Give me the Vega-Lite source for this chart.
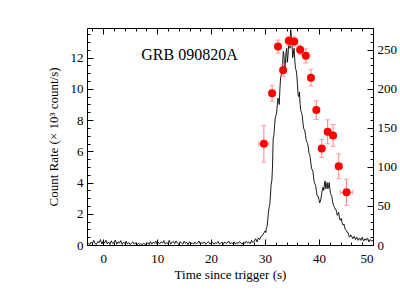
{
  "$schema": "https://vega.github.io/schema/vega-lite/v6.json",
  "autosize": {"type": "none"},
  "width": 286,
  "height": 217,
  "padding": {"left": 87, "top": 28, "right": 27, "bottom": 55},
  "background": "white",
  "config": {
    "view": {"stroke": null},
    "axis": {
      "labelFont": "Liberation Serif", "labelFontSize": 13, "labelColor": "black",
      "titleFont": "Liberation Serif", "titleFontSize": 13, "titleFontWeight": "normal", "titleColor": "black",
      "domainColor": "black", "tickColor": "black", "grid": false, "tickWidth": 1, "domainWidth": 1
    }
  },
  "datasets": {
    "lc": [
      {"t":-3,"c":0.05},{"t":-2.75,"c":0.12},{"t":-2.5,"c":0.02},{"t":-2.25,"c":0.18},{"t":-2,"c":0.08},{"t":-1.75,"c":0.3},{"t":-1.5,"c":0.1},{"t":-1.25,"c":0.04},{"t":-1,"c":0.22},{"t":-0.75,"c":0.15},{"t":-0.5,"c":0.35},{"t":-0.25,"c":0.06},{"t":0,"c":0.25},{"t":0.25,"c":0.12},{"t":0.5,"c":0.3},{"t":0.75,"c":0.08},{"t":1,"c":0.2},{"t":1.25,"c":0.03},{"t":1.5,"c":0.27},{"t":1.75,"c":0.1},
      {"t":2,"c":0.15},{"t":2.25,"c":0.32},{"t":2.5,"c":0.05},{"t":2.75,"c":0.2},{"t":3,"c":0.12},{"t":3.25,"c":0.28},{"t":3.5,"c":0.04},{"t":3.75,"c":0.18},{"t":4,"c":0.1},{"t":4.25,"c":0.24},{"t":4.5,"c":0.07},{"t":4.75,"c":0.16},{"t":5,"c":0.03},{"t":5.25,"c":0.12},{"t":5.5,"c":0.2},{"t":5.75,"c":0.06},{"t":6,"c":0.14},{"t":6.25,"c":0.02},{"t":6.5,"c":0.1},{"t":6.75,"c":0.05},
      {"t":7,"c":0.08},{"t":7.25,"c":0.02},{"t":7.5,"c":0.12},{"t":7.75,"c":0.04},{"t":8,"c":0.06},{"t":8.25,"c":0.15},{"t":8.5,"c":0.03},{"t":8.75,"c":0.22},{"t":9,"c":0.05},{"t":9.25,"c":0.18},{"t":9.5,"c":0.1},{"t":9.75,"c":0.25},{"t":10,"c":0.04},{"t":10.25,"c":0.16},{"t":10.5,"c":0.08},{"t":10.75,"c":0.2},{"t":11,"c":0.12},{"t":11.25,"c":0.28},{"t":11.5,"c":0.06},{"t":11.75,"c":0.15},
      {"t":12,"c":0.1},{"t":12.25,"c":0.3},{"t":12.5,"c":0.05},{"t":12.75,"c":0.18},{"t":13,"c":0.22},{"t":13.25,"c":0.08},{"t":13.5,"c":0.26},{"t":13.75,"c":0.12},{"t":14,"c":0.04},{"t":14.25,"c":0.2},{"t":14.5,"c":0.14},{"t":14.75,"c":0.06},{"t":15,"c":0.24},{"t":15.25,"c":0.1},{"t":15.5,"c":0.17},{"t":15.75,"c":0.03},{"t":16,"c":0.21},{"t":16.25,"c":0.09},{"t":16.5,"c":0.14},{"t":16.75,"c":0.05},
      {"t":17,"c":0.19},{"t":17.25,"c":0.08},{"t":17.5,"c":0.13},{"t":17.75,"c":0.25},{"t":18,"c":0.06},{"t":18.25,"c":0.16},{"t":18.5,"c":0.1},{"t":18.75,"c":0.2},{"t":19,"c":0.04},{"t":19.25,"c":0.14},{"t":19.5,"c":0.22},{"t":19.75,"c":0.07},{"t":20,"c":0.12},{"t":20.25,"c":0.18},{"t":20.5,"c":0.05},{"t":20.75,"c":0.15},{"t":21,"c":0.1},{"t":21.25,"c":0.23},{"t":21.5,"c":0.06},{"t":21.75,"c":0.12},
      {"t":22,"c":0.17},{"t":22.25,"c":0.04},{"t":22.5,"c":0.2},{"t":22.75,"c":0.1},{"t":23,"c":0.14},{"t":23.25,"c":0.26},{"t":23.5,"c":0.07},{"t":23.75,"c":0.15},{"t":24,"c":0.11},{"t":24.25,"c":0.2},{"t":24.5,"c":0.05},{"t":24.75,"c":0.16},{"t":25,"c":0.09},{"t":25.25,"c":0.22},{"t":25.5,"c":0.12},{"t":25.75,"c":0.06},{"t":26,"c":0.18},{"t":26.25,"c":0.1},{"t":26.5,"c":0.24},{"t":26.75,"c":0.13},
      {"t":27,"c":0.2},{"t":27.25,"c":0.08},{"t":27.5,"c":0.3},{"t":27.75,"c":0.15},
      {"t":28,"c":0.25},{"t":28.25,"c":0.4},{"t":28.5,"c":0.2},{"t":28.75,"c":0.45},{"t":29,"c":0.35},{"t":29.25,"c":0.55},{"t":29.5,"c":0.6},{"t":29.75,"c":0.75},{"t":30,"c":0.9},{"t":30.25,"c":1.05},{"t":30.5,"c":1.6},{"t":30.75,"c":2.4},{"t":31,"c":3.2},{"t":31.25,"c":4.1},{"t":31.5,"c":6.8},{"t":31.75,"c":7.6},{"t":32,"c":8.3},{"t":32.25,"c":8.9},{"t":32.5,"c":9.3},{"t":32.75,"c":10.0},{"t":33,"c":10.9},{"t":33.25,"c":11.6},{"t":33.5,"c":12.2},{"t":33.75,"c":11.5},{"t":34,"c":12.6},{"t":34.25,"c":12.1},{"t":34.5,"c":13.2},{"t":34.75,"c":13.8},{"t":35,"c":12.8},{"t":35.25,"c":12.3},{"t":35.5,"c":11.9},{"t":35.75,"c":11.2},{"t":36,"c":10.3},{"t":36.25,"c":9.5},{"t":36.5,"c":9.0},{"t":36.75,"c":8.5},{"t":37,"c":7.9},{"t":37.25,"c":7.4},{"t":37.5,"c":7.0},{"t":37.75,"c":6.6},{"t":38,"c":6.3},{"t":38.25,"c":5.8},{"t":38.5,"c":5.2},{"t":38.75,"c":4.8},{"t":39,"c":4.3},{"t":39.25,"c":3.9},{"t":39.5,"c":3.5},{"t":39.75,"c":3.1},{"t":40,"c":2.9},{"t":40.25,"c":2.8},{"t":40.5,"c":3.3},{"t":40.75,"c":3.7},{"t":41,"c":3.9},{"t":41.25,"c":3.6},{"t":41.5,"c":4.0},{"t":41.75,"c":3.7},{"t":42,"c":3.6},{"t":42.25,"c":3.2},{"t":42.5,"c":2.8},{"t":42.75,"c":2.5},{"t":43,"c":2.3},{"t":43.25,"c":2.1},{"t":43.5,"c":2.0},{"t":43.75,"c":1.8},{"t":44,"c":1.6},{"t":44.25,"c":1.45},{"t":44.5,"c":1.3},{"t":44.75,"c":1.1},{"t":45,"c":0.95},{"t":45.25,"c":0.8},{"t":45.5,"c":0.65},{"t":45.75,"c":0.55},{"t":46,"c":0.6},{"t":46.25,"c":0.4},{"t":46.5,"c":0.55},{"t":46.75,"c":0.35},{"t":47,"c":0.5},{"t":47.25,"c":0.3},{"t":47.5,"c":0.45},{"t":47.75,"c":0.3},{"t":48,"c":0.5},{"t":48.25,"c":0.25},{"t":48.5,"c":0.4},{"t":48.75,"c":0.3},{"t":49,"c":0.45},{"t":49.25,"c":0.2},{"t":49.5,"c":0.35},{"t":49.75,"c":0.25},{"t":50,"c":0.3},
      {"t":30.125,"c":0.8},{"t":30.375,"c":1.2},{"t":30.625,"c":2.1},{"t":30.875,"c":2.6},{"t":31.125,"c":3.9},{"t":31.375,"c":5.0},{"t":31.625,"c":7.0},{"t":31.875,"c":8.1},{"t":32.125,"c":8.4},{"t":32.375,"c":9.4},{"t":32.625,"c":9.0},{"t":32.875,"c":10.7},{"t":33.125,"c":11.0},{"t":33.375,"c":12.4},{"t":33.625,"c":11.0},{"t":33.875,"c":12.3},{"t":34.125,"c":11.7},{"t":34.375,"c":12.9},{"t":34.625,"c":12.6},{"t":34.875,"c":13.3},{"t":35.125,"c":12.0},{"t":35.375,"c":12.6},{"t":35.625,"c":11.3},{"t":35.875,"c":10.9},{"t":36.125,"c":9.6},{"t":36.375,"c":9.8},{"t":36.625,"c":8.6},{"t":36.875,"c":8.3},{"t":37.125,"c":7.5},{"t":37.375,"c":7.3},{"t":37.625,"c":6.7},{"t":37.875,"c":6.5},{"t":38.125,"c":5.9},{"t":38.375,"c":5.6},{"t":38.625,"c":4.9},{"t":38.875,"c":4.7},{"t":39.125,"c":4.0},{"t":39.375,"c":3.8},{"t":39.625,"c":3.2},{"t":39.875,"c":3.1},{"t":40.125,"c":2.7},{"t":40.375,"c":3.0},{"t":40.625,"c":3.6},{"t":40.875,"c":3.5},{"t":41.125,"c":4.1},{"t":41.375,"c":3.8},{"t":41.625,"c":3.6},{"t":41.875,"c":4.0},{"t":42.125,"c":3.3},{"t":42.375,"c":3.1},{"t":42.625,"c":2.6},{"t":42.875,"c":2.4},{"t":43.125,"c":2.3},{"t":43.375,"c":1.9},{"t":43.625,"c":2.1},{"t":43.875,"c":1.6},{"t":44.125,"c":1.7},{"t":44.375,"c":1.3},{"t":44.625,"c":1.35},{"t":44.875,"c":1.0},{"t":45.125,"c":0.9},{"t":45.375,"c":0.8},{"t":45.625,"c":0.5},{"t":45.875,"c":0.65}
    ],
    "pts": [
      {"t":29.78,"r":129.6,"re":23.5,"te":0.95},
      {"t":31.3,"r":194.3,"re":10,"te":0.5},
      {"t":32.4,"r":254.2,"re":8.4,"te":0.5},
      {"t":33.35,"r":223.9,"re":7.7,"te":0.5},
      {"t":34.4,"r":261.6,"re":6,"te":0.5},
      {"t":35.4,"r":260.7,"re":6,"te":0.5},
      {"t":36.5,"r":250,"re":6,"te":0.5},
      {"t":37.55,"r":242.3,"re":9,"te":0.5},
      {"t":38.5,"r":214.4,"re":10.7,"te":0.5},
      {"t":39.5,"r":172.9,"re":12,"te":0.5},
      {"t":40.5,"r":123.6,"re":11.6,"te":0.5},
      {"t":41.6,"r":145,"re":15.4,"te":0.5},
      {"t":42.6,"r":140.4,"re":14,"te":0.5},
      {"t":43.65,"r":100.9,"re":16,"te":0.6},
      {"t":45.1,"r":67.5,"re":16.7,"te":1.15}
    ],
    "lbl": [{"t":16,"c":12.2,"label":"GRB 090820A"}]
  },
  "resolve": {"scale": {"y": "independent"}, "axis": {"x": "independent", "y": "independent"}},
  "layer": [
    {
      "data": {"name": "lc"},
      "mark": {"type": "line", "color": "black", "strokeWidth": 0.9},
      "encoding": {
        "x": {"field": "t", "type": "quantitative", "scale": {"domain": [-3, 50], "nice": false, "zero": false},
              "axis": {"orient": "bottom", "values": [0,10,20,30,40,50], "tickSize": -6, "labelPadding": 13, "title": "Time since trigger (s)", "titlePadding": 3}},
        "y": {"field": "c", "type": "quantitative", "scale": {"domain": [0, 13.9], "nice": false, "zero": false},
              "axis": {"orient": "left", "values": [0,2,4,6,8,10,12], "tickSize": -6, "labelPadding": 10, "title": "Count Rate (× 10³ count/s)", "titlePadding": 10}}
      }
    },
    {
      "data": {"name": "lc"},
      "mark": {"type": "line", "opacity": 0},
      "encoding": {
        "x": {"field": "t", "type": "quantitative", "scale": {"domain": [-3, 50], "nice": false, "zero": false},
              "axis": {"orient": "bottom", "values": [-2,2,4,6,8,12,14,16,18,22,24,26,28,32,34,36,38,42,44,46,48], "tickSize": -3, "labels": false, "domain": false, "title": null}},
        "y": {"field": "c", "type": "quantitative", "scale": {"domain": [0, 13.9], "nice": false, "zero": false},
              "axis": {"orient": "left", "values": [0.5,1,1.5,2.5,3,3.5,4.5,5,5.5,6.5,7,7.5,8.5,9,9.5,10.5,11,11.5,12.5,13,13.5], "tickSize": -3, "labels": false, "domain": false, "title": null}}
      }
    },
    {
      "data": {"name": "pts"},
      "mark": {"type": "errorbar", "color": "#ff7f7f", "ticks": {"size": 5}},
      "encoding": {
        "x": {"field": "t", "type": "quantitative", "scale": {"domain": [-3, 50], "nice": false, "zero": false},
              "axis": {"orient": "top", "values": [0,10,20,30,40,50], "tickSize": -6, "labels": false, "title": null}},
        "y": {"field": "r", "type": "quantitative", "scale": {"domain": [0, 278], "nice": false, "zero": false},
              "axis": {"orient": "right", "values": [0,50,100,150,200,250], "tickSize": -6, "labelPadding": 10, "title": null}},
        "yError": {"field": "re"}
      }
    },
    {
      "data": {"name": "pts"},
      "mark": {"type": "errorbar", "color": "#ff7f7f", "ticks": {"size": 5}},
      "encoding": {
        "x": {"field": "t", "type": "quantitative", "scale": {"domain": [-3, 50], "nice": false, "zero": false},
              "axis": {"orient": "top", "values": [-2,2,4,6,8,12,14,16,18,22,24,26,28,32,34,36,38,42,44,46,48], "tickSize": -3, "labels": false, "domain": false, "title": null}},
        "xError": {"field": "te"},
        "y": {"field": "r", "type": "quantitative", "scale": {"domain": [0, 278], "nice": false, "zero": false},
              "axis": {"orient": "right", "values": [10,20,30,40,60,70,80,90,110,120,130,140,160,170,180,190,210,220,230,240,260,270], "tickSize": -3, "labels": false, "domain": false, "title": null}}
      }
    },
    {
      "data": {"name": "pts"},
      "mark": {"type": "point", "filled": true, "shape": "circle", "color": "#ff0000", "opacity": 1, "size": 64},
      "encoding": {
        "x": {"field": "t", "type": "quantitative", "scale": {"domain": [-3, 50], "nice": false, "zero": false}, "axis": null},
        "y": {"field": "r", "type": "quantitative", "scale": {"domain": [0, 278], "nice": false, "zero": false}, "axis": null}
      }
    },
    {
      "data": {"name": "lbl"},
      "mark": {"type": "text", "font": "Liberation Serif", "fontSize": 16, "color": "black", "align": "center", "baseline": "middle"},
      "encoding": {
        "x": {"field": "t", "type": "quantitative", "scale": {"domain": [-3, 50], "nice": false, "zero": false}, "axis": null},
        "y": {"field": "c", "type": "quantitative", "scale": {"domain": [0, 13.9], "nice": false, "zero": false}, "axis": null},
        "text": {"field": "label"}
      }
    }
  ]
}
